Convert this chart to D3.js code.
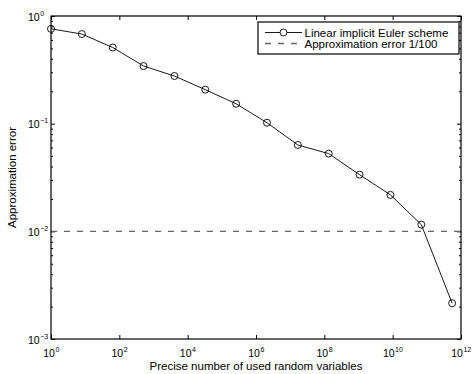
<!DOCTYPE html>
<html>
<head>
<meta charset="utf-8">
<script src="https://cdn.jsdelivr.net/npm/d3@7"></script>
<style>
  body { margin: 0; background: #fff; }
  svg { display: block; font-family: "Liberation Sans", Arial, Helvetica, sans-serif; }
  .axis path { stroke: none; }
  .axis line { stroke: #000; stroke-width: 1; }
</style>
</head>
<body>
<div id="chart"></div>
<script>
// number of random variables used (x) and resulting error (y)
const usedVariables = [1, 8, 64, 512, 4096, 32768, 262144, 2097152, 16777216,
  134217728, 1073741824, 8589934592, 68719476736, 549755813888];
const approxError = [0.76, 0.68, 0.51, 0.343, 0.277, 0.207, 0.153, 0.102, 0.0634,
  0.0527, 0.0336, 0.0218, 0.01155, 0.00215];
const targetError = 0.01;
const xTickValues = [1e0, 1e2, 1e4, 1e6, 1e8, 1e10, 1e12];
const yTickValues = [1e-3, 1e-2, 1e-1, 1e0];
const legendLabels = [`Linear implicit Euler scheme`, `Approximation error 1/100`];

const width = 473;
const height = 374;
const margin = {top: 16, right: 12, bottom: 35, left: 51};
const innerWidth = width - margin.left - margin.right;
const innerHeight = height - margin.top - margin.bottom;

const svg = d3.select(`#chart`)
  .append(`svg`)
    .attr(`width`, width)
    .attr(`height`, height);

const g = svg.append(`g`)
  .attr(`transform`, `translate(${margin.left},${margin.top})`);

const x = d3.scaleLog()
  .domain([1e0, 1e12])
  .range([0, innerWidth]);

const y = d3.scaleLog()
  .domain([1e-3, 1e0])
  .range([innerHeight, 0]);

const yMinor = y.ticks().filter(v => !yTickValues.some(t => Math.abs(t - v) / t < 1e-9));

// ticks, all pointing inward
g.append(`g`)
  .attr(`class`, `axis`)
  .attr(`transform`, `translate(0,${innerHeight})`)
  .call(d3.axisBottom(x).tickValues(xTickValues).tickSize(-4).tickSizeOuter(0).tickFormat(``));

g.append(`g`)
  .attr(`class`, `axis`)
  .call(d3.axisTop(x).tickValues(xTickValues).tickSize(-4).tickSizeOuter(0).tickFormat(``));

g.append(`g`)
  .attr(`class`, `axis`)
  .call(d3.axisLeft(y).tickValues(yTickValues).tickSize(-4).tickSizeOuter(0).tickFormat(``));

g.append(`g`)
  .attr(`class`, `axis`)
  .call(d3.axisLeft(y).tickValues(yMinor).tickSize(-2).tickSizeOuter(0).tickFormat(``));

g.append(`g`)
  .attr(`class`, `axis`)
  .attr(`transform`, `translate(${innerWidth},0)`)
  .call(d3.axisRight(y).tickValues(yTickValues).tickSize(-4).tickSizeOuter(0).tickFormat(``));

g.append(`g`)
  .attr(`class`, `axis`)
  .attr(`transform`, `translate(${innerWidth},0)`)
  .call(d3.axisRight(y).tickValues(yMinor).tickSize(-2).tickSizeOuter(0).tickFormat(``));

// tick labels: "10" plus a raised exponent, kept as two text nodes
const exponent = v => String(Math.round(Math.log10(v))).replace(`-`, `\u2212`);

const powerLabel = (sel, px, py, anchor) => {
  sel.each(function(d) {
    const node = d3.select(this);
    const base = node.append(`text`)
      .attr(`font-size`, `10.5px`)
      .text(`10`);
    const sup = node.append(`text`)
      .attr(`font-size`, `7px`)
      .text(exponent(d));
    const bw = base.node().getComputedTextLength();
    const sw = sup.node().getComputedTextLength();
    const x0 = anchor === `middle` ? px(d) - (bw + sw) / 2 : px(d);
    base.attr(`x`, x0).attr(`y`, py(d));
    sup.attr(`x`, x0 + bw + 0.5).attr(`y`, py(d) - 5);
  });
};

g.append(`g`)
  .selectAll(`g`)
  .data(xTickValues)
  .enter().append(`g`)
  .call(powerLabel, d => x(d), () => innerHeight + 17.5, `middle`);

g.append(`g`)
  .selectAll(`g`)
  .data(yTickValues)
  .enter().append(`g`)
  .call(powerLabel, () => -23, d => y(d) + 4.5, `start`);

// reference level
g.append(`line`)
  .attr(`x1`, 0)
  .attr(`x2`, innerWidth)
  .attr(`y1`, y(targetError))
  .attr(`y2`, y(targetError))
  .attr(`stroke`, `#666`)
  .attr(`stroke-width`, 1.3)
  .attr(`stroke-dasharray`, `6,7`);

// error curve
const line = d3.line()
  .x((d, i) => x(usedVariables[i]))
  .y(d => y(d));

g.append(`path`)
  .datum(approxError)
  .attr(`fill`, `none`)
  .attr(`stroke`, `#000`)
  .attr(`stroke-width`, 0.9)
  .attr(`d`, line);

g.append(`g`)
  .selectAll(`circle`)
  .data(approxError)
  .enter().append(`circle`)
    .attr(`cx`, (d, i) => x(usedVariables[i]))
    .attr(`cy`, d => y(d))
    .attr(`r`, 3.5)
    .attr(`fill`, `none`)
    .attr(`stroke`, `#000`)
    .attr(`stroke-width`, 0.9);

// frame
g.append(`rect`)
  .attr(`width`, innerWidth)
  .attr(`height`, innerHeight)
  .attr(`fill`, `none`)
  .attr(`stroke`, `#000`)
  .attr(`stroke-width`, 1.2);

// axis titles
svg.append(`text`)
  .attr(`x`, margin.left + innerWidth / 2)
  .attr(`y`, 369.5)
  .attr(`text-anchor`, `middle`)
  .attr(`font-size`, `11.5px`)
  .text(`Precise number of used random variables`);

svg.append(`text`)
  .attr(`transform`, `translate(16,${margin.top + innerHeight / 2}) rotate(-90)`)
  .attr(`text-anchor`, `middle`)
  .attr(`font-size`, `11.5px`)
  .text(`Approximation error`);

// legend
const legend = svg.append(`g`)
  .attr(`transform`, `translate(258,22)`);

legend.append(`rect`)
  .attr(`width`, 201)
  .attr(`height`, 32)
  .attr(`fill`, `#fff`)
  .attr(`stroke`, `#000`)
  .attr(`stroke-width`, 1.2);

const rows = legend.selectAll(`.legend-row`)
  .data(legendLabels)
  .enter().append(`g`)
    .attr(`class`, `legend-row`)
    .attr(`transform`, (d, i) => `translate(0,${10.5 + i * 11})`);

rows.append(`line`)
  .attr(`x1`, 7)
  .attr(`x2`, 44)
  .attr(`stroke`, (d, i) => i === 0 ? `#000` : `#666`)
  .attr(`stroke-width`, (d, i) => i === 0 ? 0.9 : 1.3)
  .attr(`stroke-dasharray`, (d, i) => i === 0 ? null : `6,7`);

rows.filter((d, i) => i === 0)
  .append(`circle`)
    .attr(`cx`, 25.5)
    .attr(`r`, 3.5)
    .attr(`fill`, `#fff`)
    .attr(`stroke`, `#000`)
    .attr(`stroke-width`, 0.9);

rows.append(`text`)
  .attr(`x`, 46.5)
  .attr(`y`, 4)
  .attr(`font-size`, `11.5px`)
  .text(d => d);
</script>
</body>
</html>
